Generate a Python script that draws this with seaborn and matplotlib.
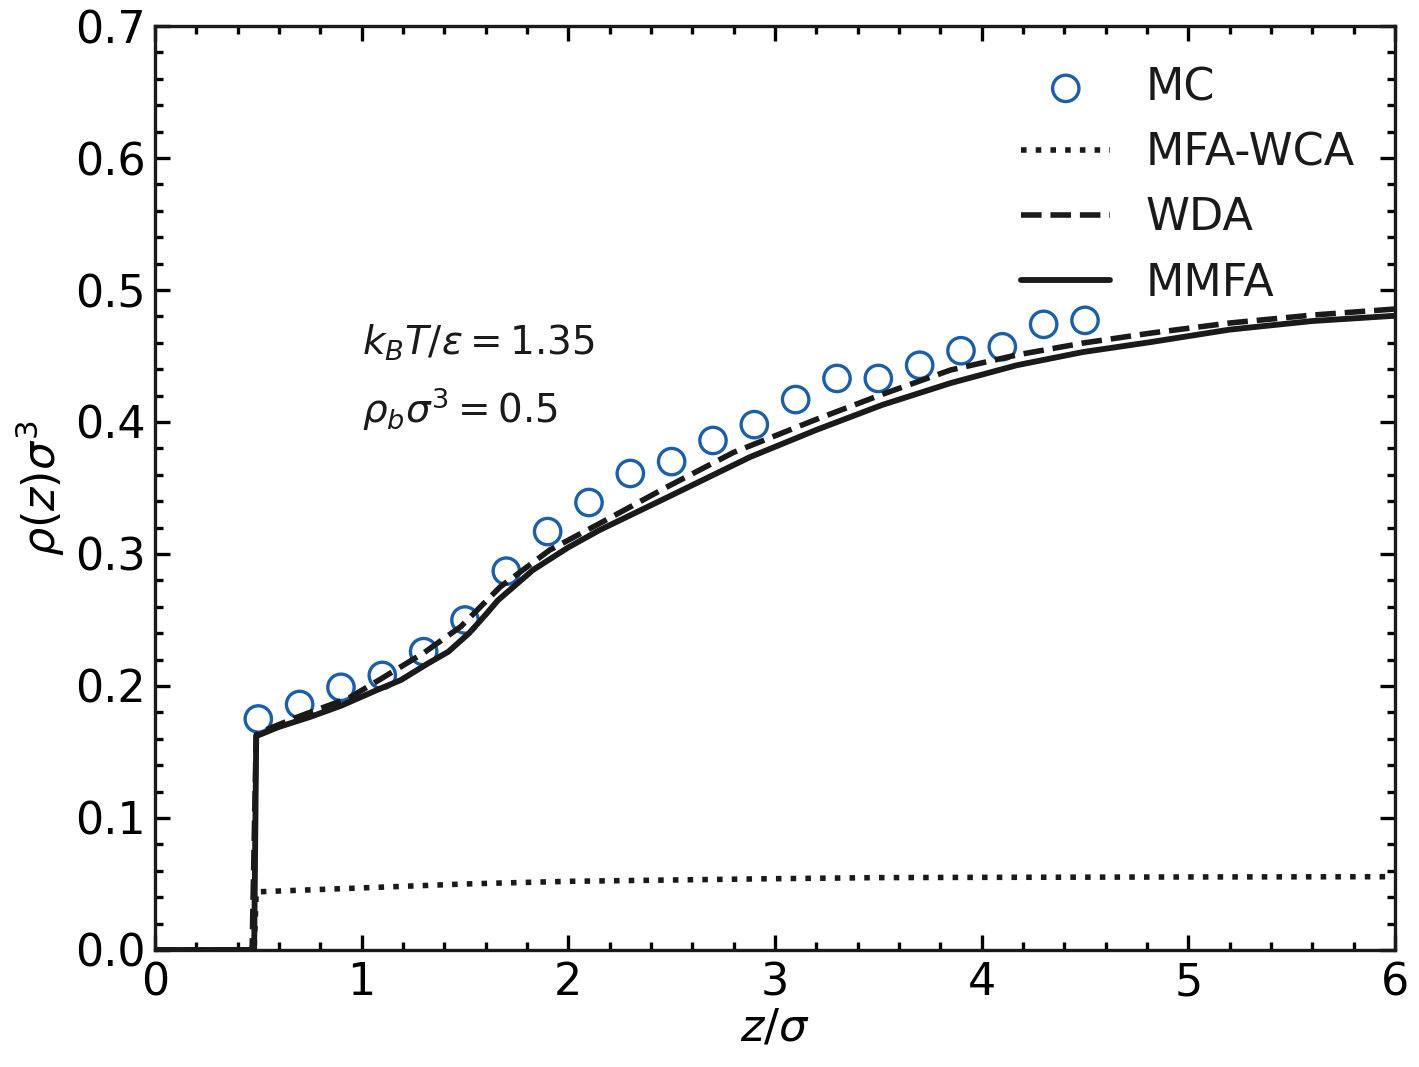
import matplotlib
matplotlib.use("Agg")
import matplotlib.pyplot as plt
import matplotlib.ticker as mtick
import seaborn as sns

# MC simulation points
z_mc = [0.5, 0.7, 0.9, 1.1, 1.3, 1.5, 1.7, 1.9, 2.1, 2.3, 2.5,
        2.7, 2.9, 3.1, 3.3, 3.5, 3.7, 3.9, 4.1, 4.3, 4.5]
rho_mc = [0.175, 0.186, 0.199, 0.208, 0.226, 0.250, 0.287, 0.317, 0.339, 0.361, 0.370,
          0.386, 0.398, 0.417, 0.433, 0.433, 0.443, 0.454, 0.457, 0.474, 0.477]

# MFA-WCA
z_mfa = [0.0, 0.48, 0.49, 1.0, 1.5, 2.0, 2.5, 3.0, 3.5, 4.0, 5.0, 6.0]
rho_mfa = [0.0, 0.0, 0.044, 0.047, 0.050, 0.052, 0.053, 0.054, 0.0548, 0.055, 0.0553, 0.0555]

# WDA
z_wda = [0.0, 0.47, 0.49, 0.51, 0.69, 0.94, 1.10, 1.30, 1.48, 1.67, 1.91,
         2.15, 2.48, 2.80, 3.20, 3.52, 3.85, 4.17, 4.49, 4.82, 5.2, 5.6, 6.0]
rho_wda = [0.0, 0.0, 0.163, 0.165, 0.1765, 0.191, 0.206, 0.225, 0.245, 0.275, 0.303,
           0.323, 0.351, 0.377, 0.402, 0.421, 0.4394, 0.4508, 0.4598, 0.4674, 0.475, 0.481, 0.4856]

# MMFA
z_mmfa = [0.0, 0.48, 0.49, 0.6, 0.75, 0.9, 1.09, 1.19, 1.32, 1.42, 1.52, 1.6, 1.66,
          1.83, 2.0, 2.15, 2.48, 2.88, 3.2, 3.52, 3.85, 4.17, 4.49, 4.82, 5.2, 5.6, 6.0]
rho_mmfa = [0.0, 0.0, 0.162, 0.169, 0.1765, 0.185, 0.198, 0.2045, 0.217, 0.226, 0.240, 0.254, 0.265,
            0.288, 0.305, 0.318, 0.343, 0.3735, 0.394, 0.413, 0.4295, 0.443, 0.453, 0.4606, 0.470,
            0.4765, 0.4805]

sns.set_theme(style="ticks", rc={
    'text.color': 'black',
    'axes.labelcolor': 'black',
    'xtick.color': 'black',
    'ytick.color': 'black',
    'axes.edgecolor': 'black',
})
plt.rcParams['font.family'] = ['DejaVu Sans']
plt.rcParams['mathtext.fontset'] = 'dejavusans'

fig = plt.figure(figsize=(7.095, 5.335), dpi=200)
ax = fig.add_axes([0.1092, 0.1097, 0.9831 - 0.1092, 0.9756 - 0.1097])

sns.scatterplot(x=z_mc, y=rho_mc, ax=ax, marker='o', s=90, facecolors='none',
                edgecolor='#1a5fa8', linewidth=1.2, label='MC', zorder=2)
sns.lineplot(x=z_mfa, y=rho_mfa, ax=ax, color='k', linestyle=':', lw=2,
             estimator=None, sort=False, label='MFA-WCA', zorder=3)
sns.lineplot(x=z_wda, y=rho_wda, ax=ax, color='k', linestyle='--', lw=2,
             estimator=None, sort=False, label='WDA', zorder=3)
sns.lineplot(x=z_mmfa, y=rho_mmfa, ax=ax, color='k', linestyle='-', lw=2.1,
             estimator=None, sort=False, label='MMFA', zorder=3)

ax.set_xlim(0, 6)
ax.set_ylim(0, 0.7)
ax.xaxis.set_major_locator(mtick.MultipleLocator(1))
ax.xaxis.set_minor_locator(mtick.MultipleLocator(0.2))
ax.yaxis.set_major_locator(mtick.MultipleLocator(0.1))
ax.yaxis.set_minor_locator(mtick.MultipleLocator(0.02))
ax.yaxis.set_major_formatter(mtick.FormatStrFormatter('%.1f'))

ax.tick_params(which='both', direction='in', top=True, right=True,
               width=1.2, labelsize=16, colors='black')
ax.tick_params(axis='x', which='both', pad=4)
ax.tick_params(axis='y', which='both', pad=3.2)
ax.tick_params(which='major', length=5.5)
ax.tick_params(which='minor', length=2.8)
for s in ax.spines.values():
    s.set_linewidth(1.2)
    s.set_color('k')

ax.set_xlabel(r'$z/\sigma$', fontsize=16, labelpad=1)
ax.set_ylabel(r'$\rho(z)\sigma^3$', fontsize=16, labelpad=3)

ax.text(1.0, 0.46, r'$k_BT/\varepsilon = 1.35$', fontsize=14, va='center', color='k')
ax.text(1.0, 0.41, r'$\rho_b\sigma^3 = 0.5$', fontsize=14, va='center', color='k')

leg = ax.legend(loc='upper right', frameon=False, fontsize=16, labelspacing=0.5)
for t in leg.get_texts():
    t.set_color('k')

fig.savefig('out.png', dpi=200)
